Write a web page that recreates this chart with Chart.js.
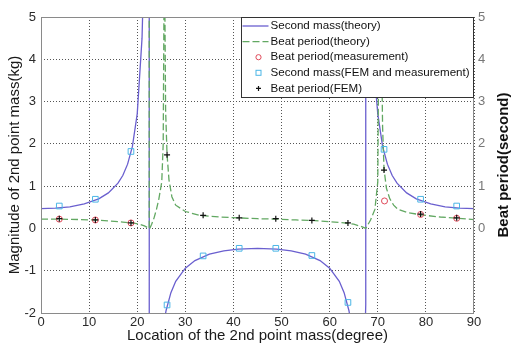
<!DOCTYPE html>
<html>
<head>
<meta charset="utf-8">
<script src="https://cdn.jsdelivr.net/npm/chart.js@4.4.1/dist/chart.umd.min.js"></script>
<style>
  html, body { margin: 0; padding: 0; background: #fff; }
</style>
</head>
<body>
<canvas id="chart" width="513" height="345"></canvas>
<script>
// theory curves (values beyond the axis limits mark the asymptotes, null = break)
const massTheoryX = [0, 3, 6, 9, 12, 14, 16, 17, 18, 19, 20, 21, 21.5, 22.5, 22.5, 23.5, 24, 24.5, 25, 25.5, 26, 27, 28, 30, 32, 35, 38, 41, 45,
    49, 52, 55, 58, 60, 62, 63, 64, 64.5, 65, 66, 66.5, 67.5, 67.5, 68.5, 69, 69.5, 70, 71, 72, 73, 74, 76, 78, 81, 84, 87, 90];
const massTheoryY = [0.47, 0.48, 0.51, 0.58, 0.7, 0.84, 1.07, 1.25, 1.52, 1.94, 2.71, 4.5, 6.7, 50, -50, -6.7, -4.5, -3.38, -2.71, -2.26, -1.94, -1.52, -1.25, -0.94, -0.76, -0.61, -0.53, -0.49, -0.47,
    -0.49, -0.53, -0.61, -0.76, -0.94, -1.25, -1.52, -1.94, -2.26, -2.71, -4.5, -6.7, -1.8, 50, 6.7, 4.5, 3.38, 2.71, 1.94, 1.52, 1.25, 1.07, 0.84, 0.7, 0.58, 0.51, 0.48, 0.47];

const beatTheoryX = [0, 4, 8, 11, 14, 17, 19, 20.5, 21.5, 22.5, 22.5, null,
    22.6, 23, 23.5, 24, 24.5, 25.1, 25.4, 25.6, null,
    25.7, 25.9, 26.2, 26.6, 27.2, 28, 30, 33, 37, 41, 45, 49, 53, 56, 60, 63, 65, 66.5, 67.5, 68.5, 69.4, 70, 70.3, null,
    70.6, 71, 71.3, 71.8, 72.5, 73.3, 74.2, 76, 79, 83, 86.4, 90];
const beatTheoryY = [0.22, 0.22, 0.21, 0.2, 0.18, 0.15, 0.13, 0.1, 0.06, 0, 6, null,
    0, 0.1, 0.25, 0.45, 0.7, 1.1, 2, 6, null,
    6, 2.8, 1.75, 1.15, 0.75, 0.55, 0.4, 0.31, 0.27, 0.25, 0.23, 0.22, 0.2, 0.19, 0.16, 0.13, 0.1, 0.05, 0, 0.2, 0.45, 1.1, 6, null,
    6, 2.4, 1.4, 0.95, 0.7, 0.55, 0.45, 0.38, 0.32, 0.27, 0.24, 0.21];

// measured / FEM points
const femX = [3.8, 11.3, 18.7, 26.2, 33.7, 41.2, 48.8, 56.3, 63.8, 71.3, 78.9, 86.4];
const massFem = [0.53, 0.69, 1.82, -1.81, -0.65, -0.47, -0.47, -0.64, -1.75, 1.87, 0.69, 0.53];
const beatFem = [0.23, 0.2, 0.13, 1.74, 0.31, 0.25, 0.23, 0.19, 0.13, 1.38, 0.34, 0.25];
const measX = [3.8, 11.3, 18.7, 71.4, 78.9, 86.4];
const beatMeas = [0.22, 0.2, 0.13, 0.65, 0.33, 0.24];

const xTicks = [0, 10, 20, 30, 40, 50, 60, 70, 80, 90];
const yTicks = [-2, -1, 0, 1, 2, 3, 4, 5];
const y2Ticks = [0, 1, 2, 3, 4, 5];

const legendLabels = ['Second mass(theory)', 'Beat period(theory)', 'Beat period(measurement)',
    'Second mass(FEM and measurement)', 'Beat period(FEM)'];
const rightTitle = 'Beat period(second)';

const FONT = "'Liberation Sans', Arial, sans-serif";
const BLUE = '#6a5fcf';
const GREEN = '#62a862';
const CYAN = '#4cb6e6';
const RED = '#e04a5a';

function pts(xs, ys) {
    return xs.map((x, i) => (x === null ? { x: NaN, y: null } : { x: x, y: ys[i] }));
}

// legend drawn inside the plot box, top right
const boxLegend = {
    id: 'boxLegend',
    afterDraw(chart) {
        const ctx = chart.ctx;
        const area = chart.chartArea;
        const w = 232, h = 80;
        const left = Math.round(area.right) - w - 0.5;
        const top = Math.round(area.top) + 0.5;
        ctx.save();
        ctx.fillStyle = '#fff';
        ctx.fillRect(left, top, w, h);
        ctx.strokeStyle = '#333';
        ctx.lineWidth = 1;
        ctx.strokeRect(left, top, w, h);

        const rowH = 15.6;
        ctx.font = '11.6px ' + FONT;
        ctx.textBaseline = 'middle';
        ctx.fillStyle = '#111';
        legendLabels.forEach((label, i) => {
            const y = top + 8.5 + i * rowH;
            const mx = left + 17;
            ctx.save();
            if (i === 0 || i === 1) {
                ctx.strokeStyle = i === 0 ? BLUE : GREEN;
                ctx.lineWidth = 1.3;
                ctx.setLineDash(i === 1 ? [7, 3] : []);
                ctx.beginPath();
                ctx.moveTo(left + 1, y);
                ctx.lineTo(left + 27, y);
                ctx.stroke();
            } else if (i === 2) {
                ctx.strokeStyle = RED;
                ctx.lineWidth = 1;
                ctx.beginPath();
                ctx.arc(mx, y, 2.6, 0, Math.PI * 2);
                ctx.stroke();
            } else if (i === 3) {
                ctx.strokeStyle = CYAN;
                ctx.lineWidth = 1;
                ctx.strokeRect(mx - 2.5, y - 2.5, 5, 5);
            } else {
                ctx.strokeStyle = '#111';
                ctx.lineWidth = 1.2;
                ctx.beginPath();
                ctx.moveTo(mx - 2.5, y); ctx.lineTo(mx + 2.5, y);
                ctx.moveTo(mx, y - 2.5); ctx.lineTo(mx, y + 2.5);
                ctx.stroke();
            }
            ctx.restore();
            ctx.fillText(label, left + 29, y);
        });
        ctx.restore();
    }
};

// grey frame round the plot area + right axis title (reads bottom to top)
const frame = {
    id: 'frame',
    afterDatasetsDraw(chart) {
        const a = chart.chartArea;
        const ctx = chart.ctx;
        ctx.save();
        ctx.strokeStyle = '#8a8a8a';
        ctx.lineWidth = 1;
        ctx.strokeRect(Math.round(a.left) + 0.5, Math.round(a.top) + 0.5,
            Math.round(a.right - a.left) - 1, Math.round(a.bottom - a.top));
        ctx.restore();
    },
    afterDraw(chart) {
        const s = chart.scales.y2;
        const ctx = chart.ctx;
        ctx.save();
        ctx.translate(s.right - 9, (chart.chartArea.top + chart.chartArea.bottom) / 2);
        ctx.rotate(-Math.PI / 2);
        ctx.font = 'bold 15px ' + FONT;
        ctx.fillStyle = '#111';
        ctx.textAlign = 'center';
        ctx.textBaseline = 'middle';
        ctx.fillText(rightTitle, 0, 0);
        ctx.restore();
    }
};

const whiteBg = {
    id: 'whiteBg',
    beforeDraw(chart) {
        const ctx = chart.ctx;
        ctx.save();
        ctx.fillStyle = '#fff';
        ctx.fillRect(0, 0, chart.width, chart.height);
        ctx.restore();
    }
};

const ctx = document.getElementById('chart').getContext('2d');

new Chart(ctx, {
    type: 'line',
    data: {
        datasets: [
            {
                label: legendLabels[4],
                type: 'scatter',
                data: pts(femX, beatFem),
                pointStyle: 'cross',
                pointRadius: 3,
                pointBorderWidth: 1.2,
                borderColor: '#111',
                backgroundColor: '#111',
                showLine: false,
                order: 0
            },
            {
                label: legendLabels[2],
                type: 'scatter',
                data: pts(measX, beatMeas),
                pointStyle: 'circle',
                pointRadius: 3,
                pointBorderWidth: 1,
                borderColor: RED,
                backgroundColor: 'rgba(0,0,0,0)',
                showLine: false,
                order: 1
            },
            {
                label: legendLabels[3],
                type: 'scatter',
                data: pts(femX, massFem),
                pointStyle: 'rect',
                pointRadius: 4,
                pointBorderWidth: 1,
                borderColor: CYAN,
                backgroundColor: 'rgba(0,0,0,0)',
                showLine: false,
                order: 2
            },
            {
                label: legendLabels[1],
                data: pts(beatTheoryX, beatTheoryY),
                borderColor: GREEN,
                borderWidth: 1.3,
                borderDash: [7, 3],
                pointRadius: 0,
                spanGaps: false,
                tension: 0,
                order: 3
            },
            {
                label: legendLabels[0],
                data: pts(massTheoryX, massTheoryY),
                borderColor: BLUE,
                borderWidth: 1.3,
                pointRadius: 0,
                spanGaps: false,
                tension: 0,
                order: 4
            }
        ]
    },
    options: {
        responsive: false,
        animation: false,
        layout: { padding: { top: 17, left: 0, right: 0, bottom: 0 } },
        plugins: {
            legend: { display: false },
            tooltip: { enabled: false }
        },
        scales: {
            x: {
                type: 'linear',
                min: xTicks[0],
                max: xTicks[xTicks.length - 1],
                afterBuildTicks: s => { s.ticks = xTicks.map(v => ({ value: v })); },
                afterFit: s => { s.height = 32; },
                ticks: { autoSkip: false, maxRotation: 0, padding: 2, color: '#2a2a2a', font: { family: FONT, size: 13 } },
                grid: { color: '#555', lineWidth: 1, drawTicks: false },
                border: { display: false, dash: [1, 2] },
                title: {
                    display: true,
                    text: 'Location of the 2nd point mass(degree)',
                    color: '#1a1a1a',
                    font: { family: FONT, size: 15 },
                    padding: { top: 0, bottom: 0 }
                }
            },
            y: {
                position: 'left',
                min: yTicks[0],
                max: yTicks[yTicks.length - 1],
                afterBuildTicks: s => { s.ticks = yTicks.map(v => ({ value: v })); },
                afterFit: s => { s.width = 41; },
                ticks: { padding: 5, color: '#2a2a2a', font: { family: FONT, size: 13 } },
                grid: { color: '#555', lineWidth: 1, drawTicks: false },
                border: { display: false, dash: [1, 2] },
                title: {
                    display: true,
                    text: 'Magnitude of 2nd point mass(kg)',
                    color: '#1a1a1a',
                    font: { family: FONT, size: 15 },
                    padding: { top: 6, bottom: 0 }
                }
            },
            y2: {
                position: 'right',
                min: yTicks[0],
                max: yTicks[yTicks.length - 1],
                afterBuildTicks: s => { s.ticks = y2Ticks.map(v => ({ value: v })); },
                afterFit: s => { s.width = 39; },
                ticks: { padding: 4, color: '#777', font: { family: FONT, size: 13 } },
                grid: { display: false, drawTicks: false },
                border: { display: false },
                title: { display: false }
            }
        }
    },
    plugins: [whiteBg, frame, boxLegend]
});
</script>
</body>
</html>
